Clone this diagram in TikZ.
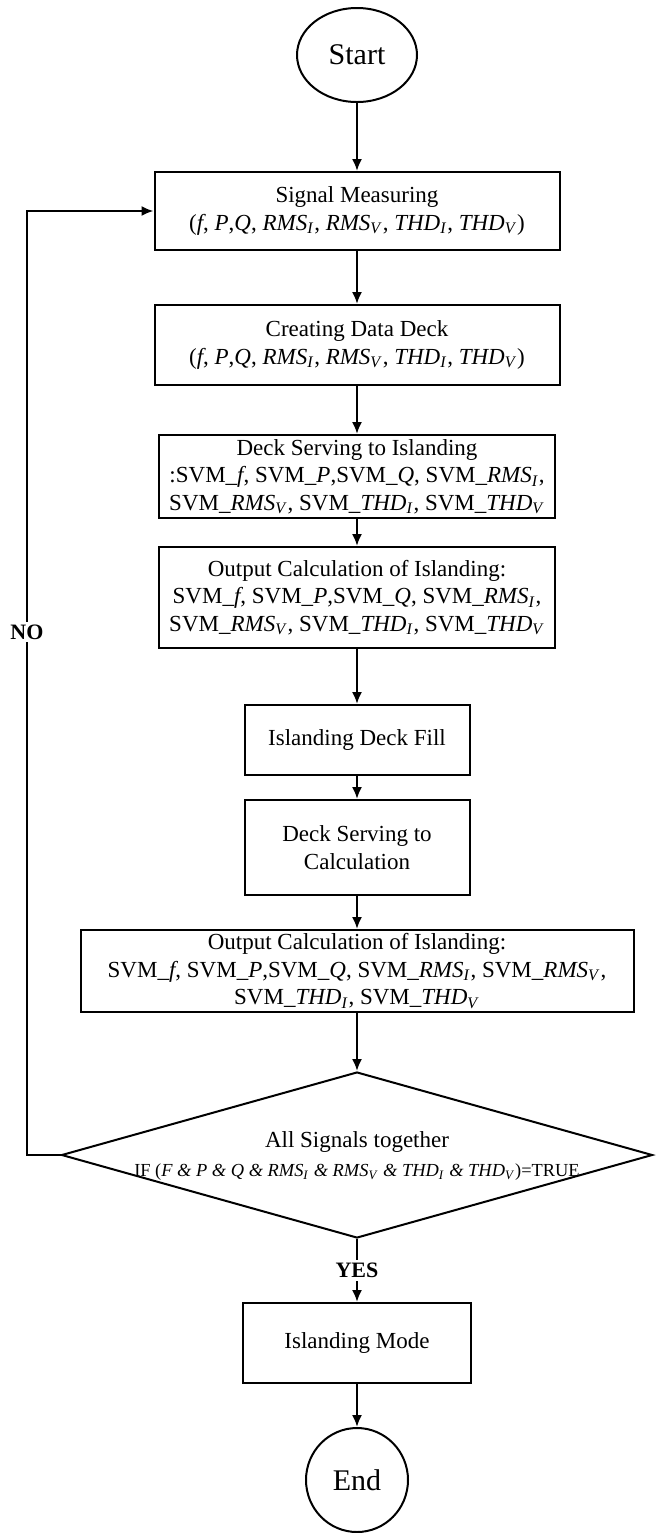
\documentclass[tikz,border=0pt]{standalone}
\usepackage{fontspec}
\setmainfont{Liberation Serif}
\usetikzlibrary{shapes.geometric, arrows.meta}
\newcommand{\ivar}[2]{\textit{#1}\textsubscript{\textit{#2}}}

\begin{document}
\begin{tikzpicture}[x=0.5pt, y=-0.5pt, line width=1pt, >={Latex[length=6pt,width=5pt]},
    box/.style={draw, rectangle, align=center, inner sep=0pt, font=\fontsize{11.5}{13.75}\selectfont},
    term/.style={draw, ellipse, inner sep=0pt, font=\fontsize{15}{18}\selectfont},
    decision/.style={draw, diamond, inner sep=0pt},
    flag/.style={fill=white, inner sep=1.5pt, font=\fontsize{11}{13}\selectfont\bfseries}]
        \useasboundingbox (0,0) rectangle (655,1533);
        \node[term, minimum width=60pt, minimum height=47pt] (start) at (357,55) {Start};
        \node[box, minimum width=202.5pt, minimum height=39pt] (measure) at (357,211)
            {Signal Measuring\\(\textit{f}, \textit{P},\textit{Q}, \ivar{RMS}{I}, \ivar{RMS}{V}, \ivar{THD}{I}, \ivar{THD}{V})};
        \node[box, minimum width=202.5pt, minimum height=40pt] (deck) at (357,345)
            {Creating Data Deck\\(\textit{f}, \textit{P},\textit{Q}, \ivar{RMS}{I}, \ivar{RMS}{V}, \ivar{THD}{I}, \ivar{THD}{V})};
        \node[box, minimum width=198pt, minimum height=41.5pt] (serve) at (357,476.5)
            {Deck Serving to Islanding\\:SVM\_\textit{f}, SVM\_\textit{P},SVM\_\textit{Q}, SVM\_\ivar{RMS}{I},\\SVM\_\ivar{RMS}{V}, SVM\_\ivar{THD}{I}, SVM\_\ivar{THD}{V}};
        \node[box, minimum width=198pt, minimum height=50.5pt] (calc) at (357,597.5)
            {Output Calculation of Islanding:\\SVM\_\textit{f}, SVM\_\textit{P},SVM\_\textit{Q}, SVM\_\ivar{RMS}{I},\\SVM\_\ivar{RMS}{V}, SVM\_\ivar{THD}{I}, SVM\_\ivar{THD}{V}};
        \node[box, minimum width=112.5pt, minimum height=35pt] (fill) at (357,740) {Islanding Deck Fill};
        \node[box, minimum width=112.5pt, minimum height=47.5pt] (serve2) at (357,847.5) {Deck Serving to\\Calculation};
        \node[box, minimum width=276.5pt, minimum height=41pt] (calc2) at (357,971)
            {Output Calculation of Islanding:\\SVM\_\textit{f}, SVM\_\textit{P},SVM\_\textit{Q}, SVM\_\ivar{RMS}{I}, SVM\_\ivar{RMS}{V},\\SVM\_\ivar{THD}{I}, SVM\_\ivar{THD}{V}};
        \node[decision, minimum width=295.5pt, minimum height=83pt] (check) at (357,1155) {};
        \node[align=center, inner sep=0pt, font=\fontsize{11.5}{13.75}\selectfont] (checktext) at (357,1156)
            {All Signals together\\[1pt]{\fontsize{9.2}{11}\selectfont IF (\textit{F \& P \& Q \& }\ivar{RMS}{I}\textit{ \& }\ivar{RMS}{V}\textit{ \& }\ivar{THD}{I}\textit{ \& }\ivar{THD}{V})=TRUE}};
        \node[box, minimum width=114pt, minimum height=40pt] (mode) at (357,1343) {Islanding Mode};
        \node[term, minimum width=51pt, minimum height=52pt] (end) at (357,1480) {End};
        \coordinate (turn) at (27,1155);
        \draw[->] (start) -- (measure);
        \draw[->] (measure) -- (deck);
        \draw[->] (deck) -- (serve);
        \draw[->] (serve) -- (calc);
        \draw[->] (calc) -- (fill);
        \draw[->] (fill) -- (serve2);
        \draw[->] (serve2) -- (calc2);
        \draw[->] (calc2) -- (check);
        \draw[->] (check.west) -- (turn) |- (measure.west);
        \node[flag] (no) at (27,632) {NO};
        \draw[->] (check.south) -- node[flag] (yes) {YES} (mode);
        \draw[->] (mode) -- (end);
    \end{tikzpicture}
\end{document}
